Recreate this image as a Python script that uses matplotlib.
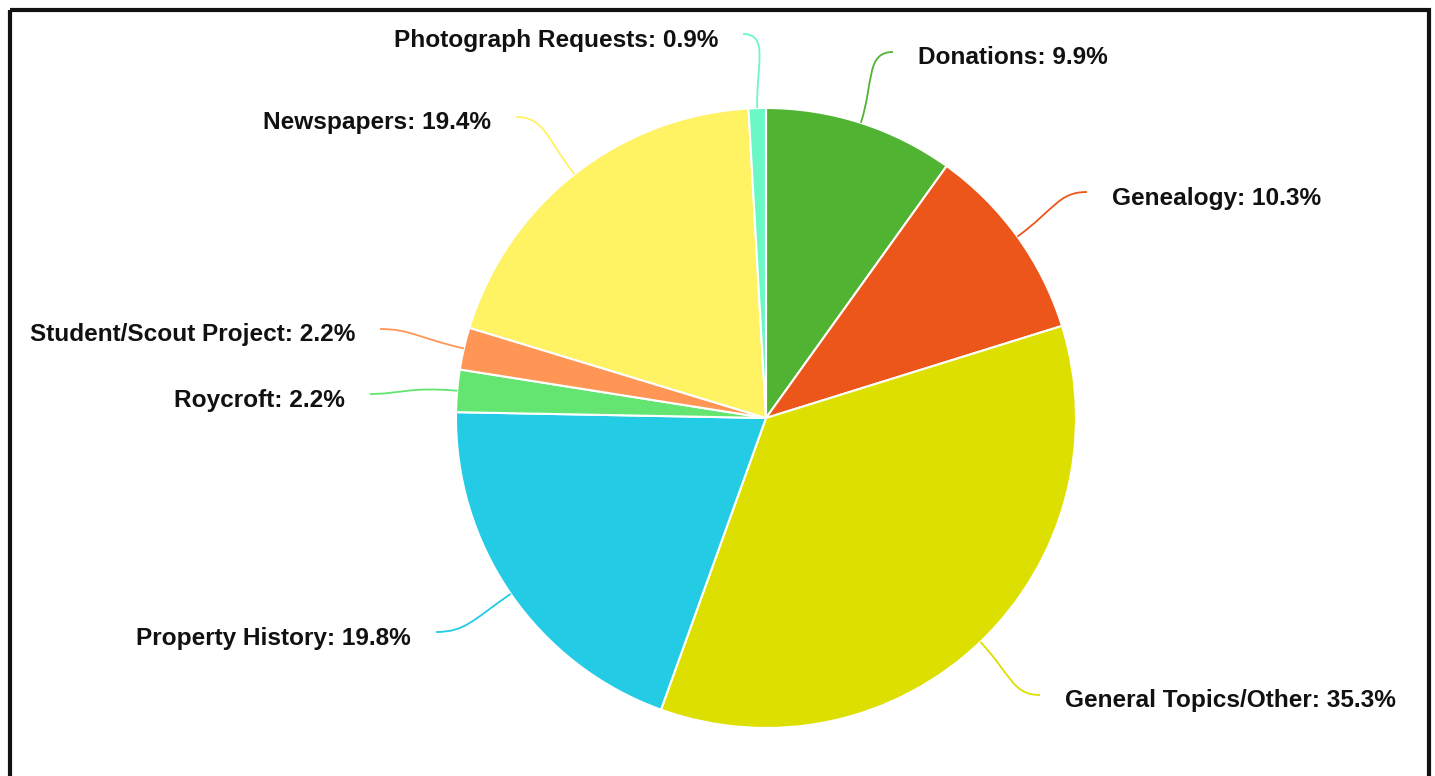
import numpy as np
import matplotlib
matplotlib.use('Agg')
import matplotlib.pyplot as plt
from matplotlib.patches import Rectangle, PathPatch
from matplotlib.path import Path

labels = ['Donations', 'Genealogy', 'General Topics/Other', 'Property History',
          'Roycroft', 'Student/Scout Project', 'Newspapers', 'Photograph Requests']
shares = [9.9, 10.3, 35.3, 19.8, 2.2, 2.2, 19.4, 0.9]
colors = ['#50B432', '#ED561B', '#DDDF00', '#24CBE5',
          '#64E572', '#FF9655', '#FFF263', '#6AF9C4']

# where each connector ends (image pixels) and which side the text sits on
label_ends = [(893, 52), (1087, 192), (1040, 695), (436, 632),
              (370, 394), (380, 329), (516, 117), (743, 34)]
label_side = [1, 1, 1, -1, -1, -1, -1, -1]

W, H = 1435, 776
cx, cy, r = 766, 418, 310


def main():
    fig = plt.figure(figsize=(W / 100, H / 100), dpi=100)
    ax = fig.add_axes([0, 0, 1, 1])

    wedges, _ = ax.pie(shares, colors=colors, startangle=270, counterclock=True,
                       center=(cx, cy), radius=r,
                       wedgeprops=dict(edgecolor='white', linewidth=1.5))

    # pie() resets the limits, so set the pixel frame afterwards
    ax.set_xlim(0, W)
    ax.set_ylim(H, 0)
    ax.set_aspect('equal')
    ax.axis('off')

    # frame around the chart
    ax.add_patch(Rectangle((10, 10), 1419, 800, fill=False, edgecolor='#111111',
                           linewidth=3))

    for w, lab, val, col, end, side in zip(wedges, labels, shares, colors,
                                           label_ends, label_side):
        mid = np.deg2rad((w.theta1 + w.theta2) / 2)
        u = np.array([np.cos(mid), np.sin(mid)])
        p0 = np.array([cx, cy]) + u * r
        p3 = np.array(end, dtype=float)
        dist = np.hypot(*(p3 - p0))
        p1 = p0 + u * dist * 0.55
        p2 = p3 - np.array([side * dist * 0.35, 0])
        path = Path([p0, p1, p2, p3],
                    [Path.MOVETO, Path.CURVE4, Path.CURVE4, Path.CURVE4])
        ax.add_patch(PathPatch(path, fill=False, edgecolor=col, linewidth=1.3))
        tx = p3[0] + side * 25
        ax.text(tx, p3[1] + 6, f'{lab}: {val}%', ha='left' if side > 0 else 'right',
                va='center', fontsize=17.6, fontweight='bold',
                family='Liberation Sans', color='#111111')

    fig.savefig('out.png', dpi=100)


if __name__ == '__main__':
    main()
